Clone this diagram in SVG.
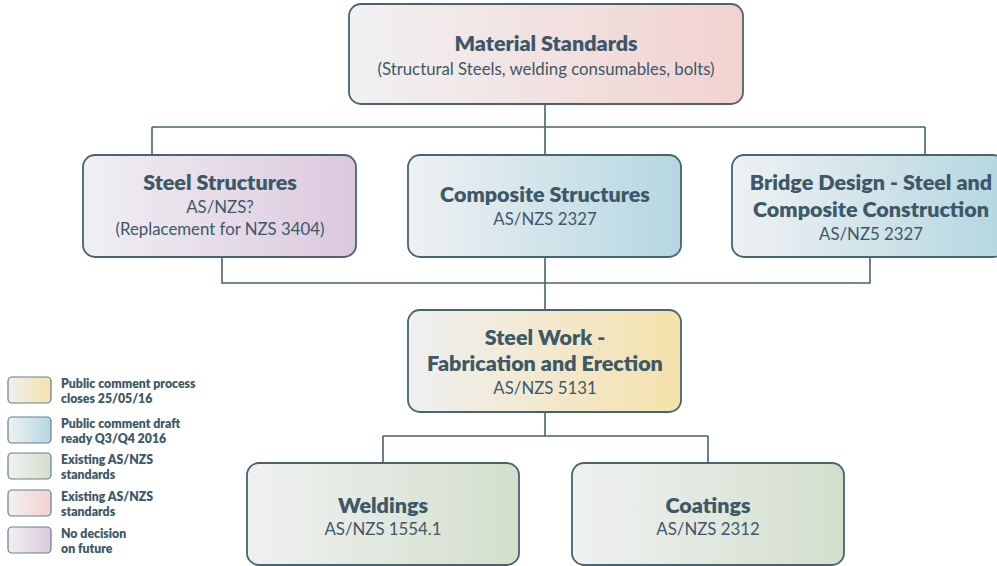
<svg xmlns="http://www.w3.org/2000/svg" width="997" height="566" viewBox="0 0 997 566">
  <defs>
    <linearGradient id="gPink" x1="0" y1="0" x2="1" y2="0">
      <stop offset="0" stop-color="#f1f1f2"/>
      <stop offset="1" stop-color="#f2d2cf"/>
    </linearGradient>
    <linearGradient id="gPurple" x1="0" y1="0" x2="1" y2="0">
      <stop offset="0" stop-color="#f0f0f2"/>
      <stop offset="1" stop-color="#dcc8de"/>
    </linearGradient>
    <linearGradient id="gBlue" x1="0" y1="0" x2="1" y2="0">
      <stop offset="0" stop-color="#eff1f2"/>
      <stop offset="1" stop-color="#b5d7e1"/>
    </linearGradient>
    <linearGradient id="gYellow" x1="0" y1="0" x2="1" y2="0">
      <stop offset="0" stop-color="#eff0f2"/>
      <stop offset="1" stop-color="#f5e1ab"/>
    </linearGradient>
    <linearGradient id="gGreen" x1="0" y1="0" x2="1" y2="0">
      <stop offset="0" stop-color="#f0f1f1"/>
      <stop offset="1" stop-color="#d3dfcc"/>
    </linearGradient>
  </defs>
  <style>
    .box { stroke: #4a6370; stroke-width: 1.8; }
    .sw { stroke: #6a7e88; stroke-width: 1.2; }
    .wire { fill: none; stroke: #4a6370; stroke-width: 1.6; }
    text { font-family: Lato, "Open Sans", "Liberation Sans", sans-serif; fill: #3d5868; text-anchor: middle; }
    .t { font-weight: 800; font-size: 21.5px; }
    .s { font-weight: 400; font-size: 16.8px; }
    .lg { font-weight: 800; font-size: 12.3px; text-anchor: start; }
  </style>
  <rect width="997" height="566" fill="#ffffff"/>

  <g id="connectors">
    <path class="wire" d="M545 104 V127 M152 127 H925 M152 127 V155 M545 127 V155 M925 127 V155"/>
    <path class="wire" d="M222 257 V283 H870 V257 M545 257 V310"/>
    <path class="wire" d="M545 412 V436 M383 436 H708 M383 436 V463 M708 436 V463"/>
  </g>

  <g id="material-standards">
    <rect class="box" x="349" y="4" width="394" height="100" rx="12" fill="url(#gPink)"/>
    <text class="t" x="546" y="51">Material Standards</text>
    <text class="s" x="546" y="75">(Structural Steels, welding consumables, bolts)</text>
  </g>

  <g id="steel-structures">
    <rect class="box" x="83" y="155" width="273" height="102" rx="12" fill="url(#gPurple)"/>
    <text class="t" x="220" y="190">Steel Structures</text>
    <text class="s" x="220" y="213">AS/NZS?</text>
    <text class="s" x="220" y="235">(Replacement for NZS 3404)</text>
  </g>

  <g id="composite-structures">
    <rect class="box" x="408" y="155" width="273" height="102" rx="12" fill="url(#gBlue)"/>
    <text class="t" x="545" y="202">Composite Structures</text>
    <text class="s" x="545" y="225">AS/NZS 2327</text>
  </g>

  <g id="bridge-design">
    <rect class="box" x="732" y="155" width="273" height="102" rx="12" fill="url(#gBlue)"/>
    <text class="t" x="871" y="190">Bridge Design - Steel and</text>
    <text class="t" x="871" y="217">Composite Construction</text>
    <text class="s" x="871" y="240">AS/NZ5 2327</text>
  </g>

  <g id="steel-work">
    <rect class="box" x="408" y="310" width="273" height="102" rx="12" fill="url(#gYellow)"/>
    <text class="t" x="545" y="345">Steel Work -</text>
    <text class="t" x="545" y="371">Fabrication and Erection</text>
    <text class="s" x="545" y="394">AS/NZS 5131</text>
  </g>

  <g id="weldings">
    <rect class="box" x="247" y="463" width="272" height="102" rx="12" fill="url(#gGreen)"/>
    <text class="t" x="383" y="513">Weldings</text>
    <text class="s" x="383" y="535">AS/NZS 1554.1</text>
  </g>

  <g id="coatings">
    <rect class="box" x="572" y="463" width="272" height="102" rx="12" fill="url(#gGreen)"/>
    <text class="t" x="708" y="513">Coatings</text>
    <text class="s" x="708" y="535">AS/NZS 2312</text>
  </g>

  <g id="legend">
    <rect class="sw" x="8" y="377" width="43" height="26" rx="4" fill="url(#gYellow)"/>
    <text class="lg" x="61" y="388">Public comment process</text>
    <text class="lg" x="61" y="403">closes 25/05/16</text>

    <rect class="sw" x="8" y="417" width="43" height="26" rx="4" fill="url(#gBlue)"/>
    <text class="lg" x="61" y="428">Public comment draft</text>
    <text class="lg" x="61" y="443">ready Q3/Q4 2016</text>

    <rect class="sw" x="8" y="453" width="43" height="26" rx="4" fill="url(#gGreen)"/>
    <text class="lg" x="61" y="464">Existing AS/NZS</text>
    <text class="lg" x="61" y="479">standards</text>

    <rect class="sw" x="8" y="490" width="43" height="26" rx="4" fill="url(#gPink)"/>
    <text class="lg" x="61" y="501">Existing AS/NZS</text>
    <text class="lg" x="61" y="516">standards</text>

    <rect class="sw" x="8" y="527" width="43" height="26" rx="4" fill="url(#gPurple)"/>
    <text class="lg" x="61" y="538">No decision</text>
    <text class="lg" x="61" y="553">on future</text>
  </g>
</svg>
